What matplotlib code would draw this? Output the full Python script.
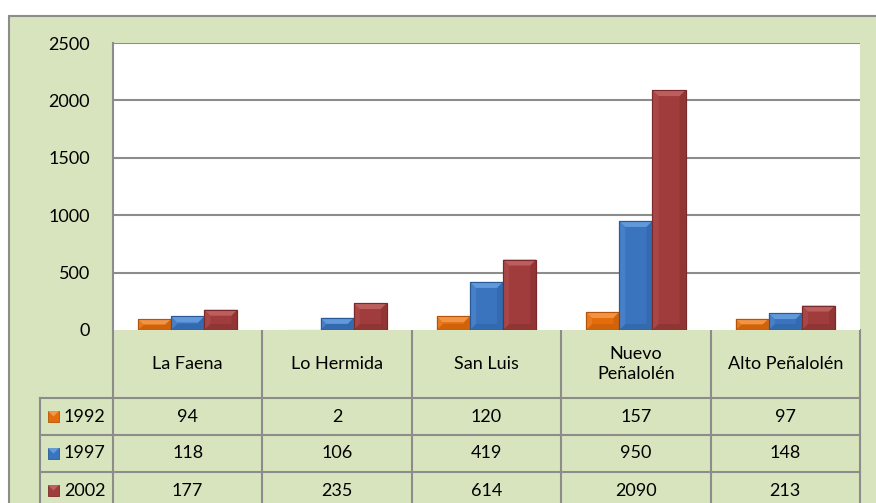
import matplotlib
matplotlib.use("Agg")
import matplotlib.pyplot as plt
from matplotlib.patches import Rectangle, Polygon
import numpy as np

plt.rcParams['font.family'] = ['Lato', 'DejaVu Sans']

categories = ["La Faena", "Lo Hermida", "San Luis", "Nuevo\nPeñalolén", "Alto Peñalolén"]
series_names = ["1992", "1997", "2002"]
v1992 = [94, 2, 120, 157, 97]
v1997 = [118, 106, 419, 950, 148]
v2002 = [177, 235, 614, 2090, 213]
series = [v1992, v1997, v2002]
yticks = [0, 500, 1000, 1500, 2000, 2500]

face = ["#E46C0A", "#3A74BE", "#A03C3C"]
light = ["#F7A25A", "#6FA6E6", "#C76A6A"]
dark = ["#B4540A", "#2A5A96", "#7A2A2A"]

FS = 13
W, H = 876, 503
fig = plt.figure(figsize=(W / 100, H / 100), dpi=100, facecolor="white")

# background / layout axes in pixel coordinates
bg = fig.add_axes([0, 0, 1, 1], zorder=0)
bg.set_xlim(0, W)
bg.set_ylim(H, 0)
bg.axis("off")
green = "#D7E4BD"
grid_c = "#8C8C8C"
bg.add_patch(Rectangle((9, 16), W, H, facecolor=green, edgecolor=grid_c, lw=1.5))

# plot area
px_l, px_r, px_t, px_b = 113, 860, 43, 330
ax = fig.add_axes([px_l / W, (H - px_b) / H, (px_r - px_l) / W, (px_b - px_t) / H], zorder=1)
ax.set_facecolor("white")
ax.set_xlim(-0.5, len(categories) - 0.5)
ax.set_ylim(0, 2500)
ax.set_yticks(yticks)
ax.set_yticklabels([str(t) for t in yticks], fontsize=FS, color="#000000")
ax.tick_params(axis="y", length=0, pad=16.5)
ax.set_xticks([])
for s in ["top", "right", "bottom"]:
    ax.spines[s].set_visible(False)
ax.spines["left"].set_color(grid_c)
ax.spines["left"].set_linewidth(1.5)
for t in yticks[1:]:
    ax.axhline(t, color=grid_c, lw=1.5, zorder=0)

bw = 0.222
offs = [-bw, 0, bw]
x = np.arange(len(categories))
fig.canvas.draw()
inv = ax.transData.inverted()
for k, vals in enumerate(series):
    ax.bar(x + offs[k], vals, width=bw, color=face[k], edgecolor=dark[k], lw=0.8, zorder=3)
    for xi, v in zip(x + offs[k], vals):
        # bevel computed in display pixels from data
        (x0, y0) = ax.transData.transform((xi - bw / 2, 0))
        (x1, y1) = ax.transData.transform((xi + bw / 2, v))
        h = y1 - y0
        b = min(6.0, h / 2.0)
        if h <= 1:
            continue
        top = [(x0, y1), (x1, y1), (x1 - 6, y1 - b), (x0 + 6, y1 - b)]
        bot = [(x0, y0), (x1, y0), (x1 - 6, y0 + b), (x0 + 6, y0 + b)]
        left = [(x0, y0), (x0, y1), (x0 + 6, y1 - b), (x0 + 6, y0 + b)]
        right = [(x1, y0), (x1, y1), (x1 - 6, y1 - b), (x1 - 6, y0 + b)]
        for poly, c, a in [(top, light[k], 0.75), (bot, dark[k], 0.4),
                           (left, light[k], 0.25), (right, dark[k], 0.35)]:
            p = Polygon([tuple(inv.transform(pt)) for pt in poly], closed=True,
                        facecolor=c, edgecolor="none", alpha=a, zorder=4)
            ax.add_patch(p)
        ax.add_patch(Rectangle((xi - bw / 2, 0), bw, v, facecolor="none",
                               edgecolor=dark[k], lw=0.8, zorder=5))

# data table
col_edges = [px_l + i * (px_r - px_l) / len(categories) for i in range(len(categories) + 1)]
row_edges = [330, 398, 435, 472, 509]
lab_left = 40
for xe in col_edges:
    bg.plot([xe, xe], [330, H + 5], color=grid_c, lw=1.5, zorder=2)
bg.plot([lab_left, lab_left], [398, H + 5], color=grid_c, lw=1.5, zorder=2)
for ye in row_edges[1:]:
    bg.plot([lab_left, px_r], [ye, ye], color=grid_c, lw=1.5, zorder=2)

for i, cat in enumerate(categories):
    cx = (col_edges[i] + col_edges[i + 1]) / 2
    bg.text(cx, 364, cat, ha="center", va="center", fontsize=FS, linespacing=1.3, zorder=3)
    for r, vals in enumerate(series):
        cy = (row_edges[r + 1] + row_edges[r + 2]) / 2
        bg.text(cx, cy, str(vals[i]), ha="center", va="center", fontsize=FS, zorder=3)

for r, name in enumerate(series_names):
    cy = (row_edges[r + 1] + row_edges[r + 2]) / 2
    bg.add_patch(Rectangle((48, cy - 5.5), 11, 11, facecolor=face[r], edgecolor=dark[r], lw=0.6, zorder=3))
    bg.add_patch(Polygon([(48, cy - 5.5), (59, cy - 5.5), (53.5, cy)], closed=True,
                         facecolor=light[r], edgecolor="none", alpha=0.8, zorder=4))
    bg.text(64, cy, name, ha="left", va="center", fontsize=FS, zorder=3)

fig.savefig("out.png", dpi=100, facecolor="white")
